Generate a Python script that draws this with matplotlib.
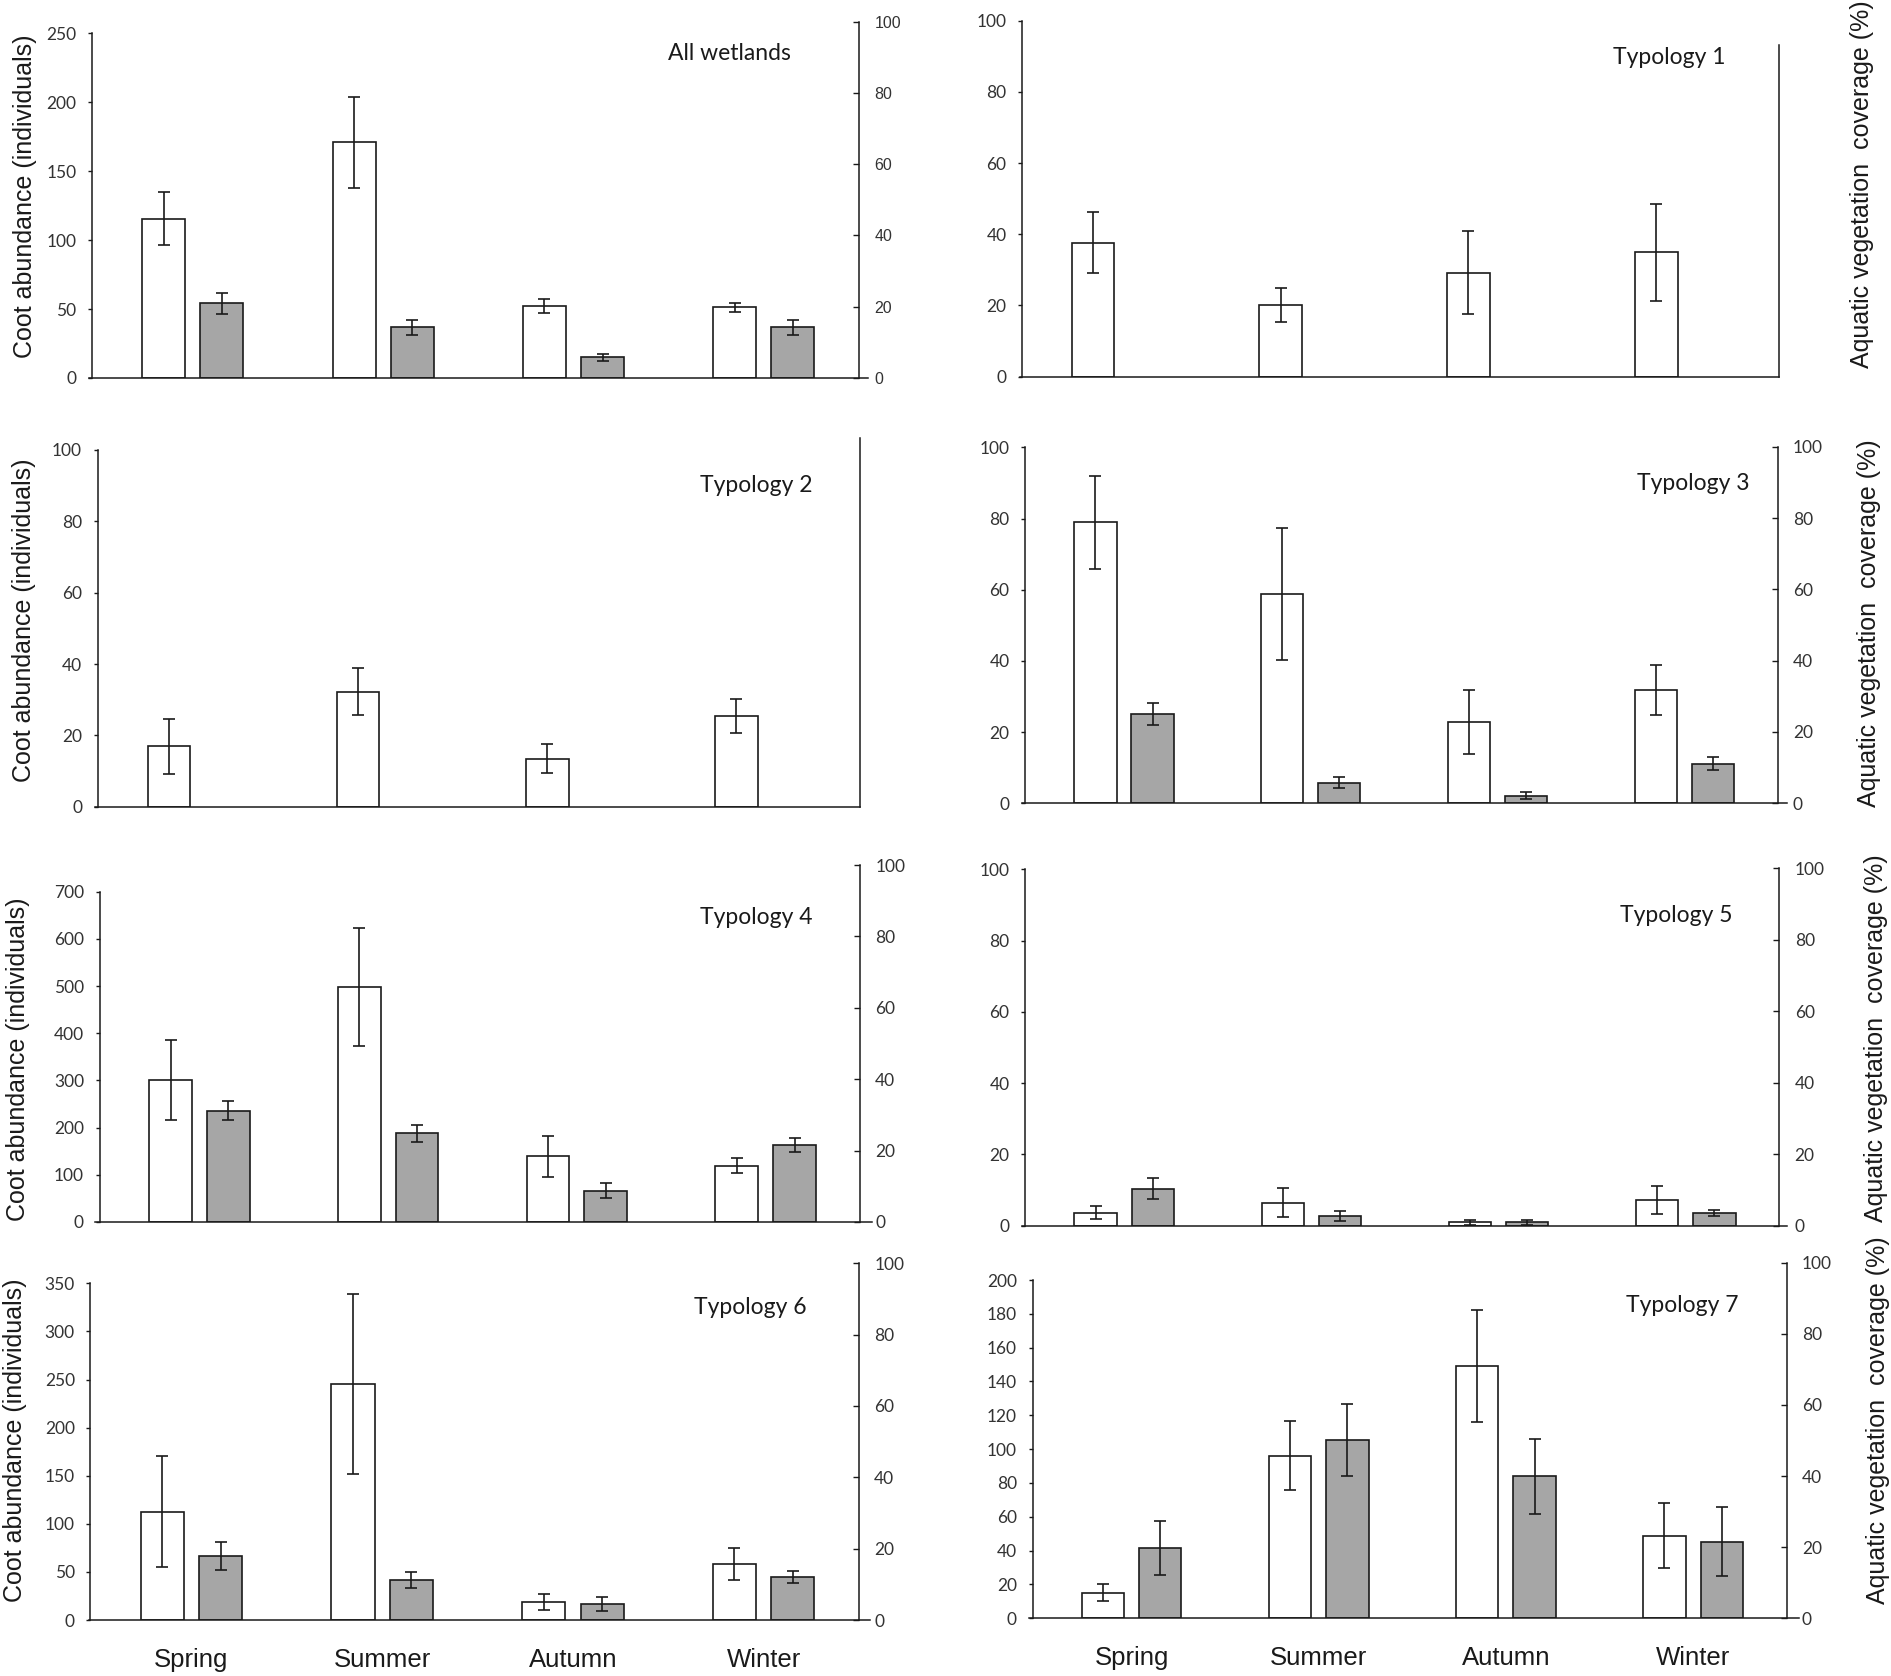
import matplotlib
matplotlib.use('Agg')
import matplotlib.pyplot as plt
from matplotlib.lines import Line2D
import numpy as np

# ---------------- data ----------------
seasons = ['Spring', 'Summer', 'Autumn', 'Winter']
titles = ['All wetlands', 'Typology 1', 'Typology 2', 'Typology 3',
          'Typology 4', 'Typology 5', 'Typology 6', 'Typology 7']

# Coot abundance (individuals): mean and standard error
coot_all = [115.5, 171.0, 52.2, 51.3]
coot_all_se = [19.2, 33.1, 4.9, 3.2]
coot_t1 = [37.6, 20.2, 29.2, 34.9]
coot_t1_se = [8.6, 4.8, 11.7, 13.5]
coot_t2 = [17.0, 32.2, 13.5, 25.5]
coot_t2_se = [7.7, 6.6, 4.0, 4.8]
coot_t3 = [78.9, 58.8, 22.8, 31.8]
coot_t3_se = [13.1, 18.6, 9.0, 7.0]
coot_t4 = [301.0, 498.0, 139.0, 119.3]
coot_t4_se = [84.7, 125.2, 42.7, 15.9]
coot_t5 = [3.6, 6.5, 0.9, 7.2]
coot_t5_se = [1.8, 4.1, 0.8, 3.9]
coot_t6 = [112.6, 245.3, 18.4, 57.9]
coot_t6_se = [57.4, 93.2, 8.3, 16.8]
coot_t7 = [15.2, 96.2, 149.2, 48.9]
coot_t7_se = [5.1, 20.3, 33.1, 19.2]

# Aquatic vegetation coverage (%): mean and standard error (None = not shown)
veg_all = [21.0, 14.2, 5.8, 14.2]
veg_all_se = [2.9, 2.1, 0.9, 2.1]
veg_t3 = [25.0, 5.8, 2.1, 11.1]
veg_t3_se = [3.0, 1.6, 1.0, 1.9]
veg_t4 = [31.2, 24.8, 8.7, 21.6]
veg_t4_se = [2.7, 2.5, 2.1, 2.0]
veg_t5 = [10.4, 2.7, 0.9, 3.6]
veg_t5_se = [2.9, 1.4, 0.8, 0.9]
veg_t6 = [17.9, 11.2, 4.5, 12.1]
veg_t6_se = [3.9, 2.3, 2.0, 1.7]
veg_t7 = [19.8, 50.2, 39.9, 21.5]
veg_t7_se = [7.7, 10.2, 10.6, 9.7]

coot = [coot_all, coot_t1, coot_t2, coot_t3, coot_t4, coot_t5, coot_t6, coot_t7]
coot_se = [coot_all_se, coot_t1_se, coot_t2_se, coot_t3_se, coot_t4_se,
           coot_t5_se, coot_t6_se, coot_t7_se]
veg = [veg_all, None, None, veg_t3, veg_t4, veg_t5, veg_t6, veg_t7]
veg_se = [veg_all_se, None, None, veg_t3_se, veg_t4_se, veg_t5_se, veg_t6_se, veg_t7_se]

# ---------------- layout (pixels in a 1891x1676 canvas) ----------------
W, H = 1891, 1676
# L, R, y0, left_top, left_max, left_step, right_top, right_ticks, xaxis_from, xaxis_to
layout = [
    (92, 859, 378, 33.3, 250, 50, 21.7, True, 89, 868),
    (1022, 1779, 376.7, 20.7, 100, 20, 45, False, 1020, 1779),
    (97.6, 860, 806.7, 450, 100, 20, 438, False, 95, 860),
    (1025, 1777.6, 803.3, 447.3, 100, 20, 446.7, True, 1022, 1787),
    (99.5, 860, 1222, 891.7, 700, 100, 865, True, 95, 872),
    (1025, 1779.4, 1225.7, 869.3, 100, 20, 868.3, True, 1022, 1787),
    (90.4, 859, 1620, 1283.3, 350, 50, 1263.3, True, 89, 870),
    (1032.5, 1786.6, 1618.3, 1280, 200, 20, 1262.7, True, 1029, 1799),
]
title_pos = [(729, 53), (1669, 57), (756, 485), (1693, 483),
             (756, 917), (1676, 915), (750, 1307), (1682, 1305)]
left_label_pos = {0: (25, 196), 2: (24, 620), 4: (18, 1059), 6: (15, 1440)}
right_label_pos = {1: (1862, 184), 3: (1869, 623), 5: (1876, 1038), 7: (1878, 1420)}

XLIM = (-0.53, 3.5)
OFF = 0.153
BW = 0.226
GRAY = '#a6a6a6'
INK = '#1a1a1a'
TICKC = '#333333'

fig = plt.figure(figsize=(W / 100, H / 100), dpi=100)
fig.patch.set_facecolor('white')


def box(L, R, y0, ytop):
    return fig.add_axes([L / W, 1 - y0 / H, (R - L) / W, (y0 - ytop) / H])


err_kw = dict(ecolor=INK, elinewidth=1.2, capsize=4.0, capthick=1.2)

for k in range(8):
    L, R, y0, ltop, lmax, lstep, rtop, rticks, xa, xb = layout[k]
    x = np.arange(len(seasons))

    ax = box(L, R, y0, ltop)
    ax.set_xlim(*XLIM)
    ax.set_ylim(0, lmax)
    ax.patch.set_alpha(0)
    for s in ['top', 'right', 'bottom']:
        ax.spines[s].set_visible(False)
    ax.spines['left'].set_linewidth(1.1)
    ax.spines['left'].set_color(INK)
    ax.set_yticks(np.arange(0, lmax + 1, lstep))
    ax.tick_params(axis='y', direction='out', length=3.2, width=1.0, color=INK,
                   pad=8, labelsize=12.5, labelcolor=TICKC)
    for t in ax.get_yticklabels():
        t.set_family('Lato')
    ax.bar(x - OFF, coot[k], width=BW, color='white', edgecolor=INK,
           linewidth=1.2, yerr=coot_se[k], error_kw=err_kw, zorder=3)

    if k >= 6:
        ax.set_xticks(x)
        ax.set_xticklabels(seasons, family='Liberation Sans', fontsize=18.5,
                           color=INK)
        ax.tick_params(axis='x', length=0, pad=20)
    else:
        ax.set_xticks([])

    ax2 = box(L, R, y0, rtop)
    ax2.set_xlim(*XLIM)
    ax2.set_ylim(0, 100)
    ax2.patch.set_alpha(0)
    for s in ['top', 'left', 'bottom']:
        ax2.spines[s].set_visible(False)
    ax2.spines['right'].set_linewidth(1.1)
    ax2.spines['right'].set_color(INK)
    ax2.set_xticks([])
    ax2.yaxis.tick_right()
    if rticks:
        ax2.set_yticks(np.arange(0, 101, 20))
        ax2.tick_params(axis='y', direction='in', length=4, width=1.0, color=INK,
                        pad=11, labelsize=12.5 if k else 11.5, labelcolor=TICKC)
        for t in ax2.get_yticklabels():
            t.set_family('Lato' if k else 'Liberation Sans')
    else:
        ax2.set_yticks([])
    if veg[k] is not None:
        ax2.bar(x + OFF, veg[k], width=BW, color=GRAY, edgecolor=INK,
                linewidth=1.2, yerr=veg_se[k], error_kw=err_kw, zorder=3)

    # x axis line
    fig.add_artist(Line2D([xa / W, xb / W], [1 - y0 / H, 1 - y0 / H],
                          color=INK, linewidth=1.1))

    tx, ty = title_pos[k]
    fig.text(tx / W, 1 - ty / H, titles[k], ha='center', va='center',
             fontsize=16.5, family='Lato', color=INK)

for k, (lx, ly) in left_label_pos.items():
    fig.text(lx / W, 1 - ly / H, 'Coot abundance (individuals)', rotation=90,
             ha='center', va='center', fontsize=18, family='Liberation Sans',
             color=INK)
for k, (rx, ry) in right_label_pos.items():
    fig.text(rx / W, 1 - ry / H, 'Aquatic vegetation  coverage (%)', rotation=90,
             ha='center', va='center', fontsize=18, family='Liberation Sans',
             color=INK)

fig.savefig('out.png', dpi=100, facecolor='white')
